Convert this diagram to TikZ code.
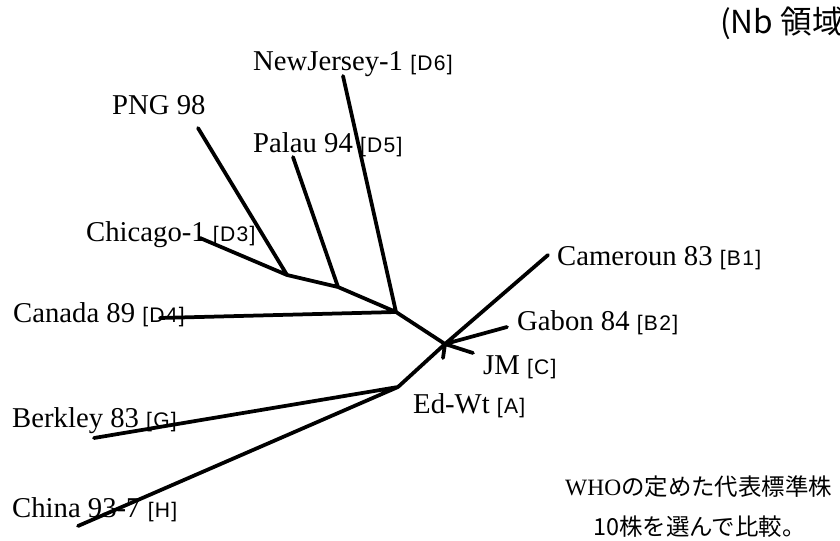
\documentclass[tikz,border=0pt]{standalone}
\usepackage{fontspec}
\setmainfont{Liberation Serif}
\newfontfamily\jpfont{Noto Sans CJK JP}
\newfontfamily\tagfont[LetterSpace=6]{Liberation Sans}
\newcommand{\strain}{\fontsize{24.5}{28}\selectfont}
\newcommand{\tagf}{\tagfont\fontsize{18}{22}\selectfont}
\tikzset{
	branch/.style={line width=3.2pt, line cap=round, line join=round},
	leaflabel/.style={anchor=base west, inner sep=0pt, font=\strain}
}
\begin{document}
\begin{tikzpicture}[x=0.03cm,y=-0.03cm]
		\useasboundingbox (0,0) rectangle (840,541);
		% tips and inner junctions
		\coordinate (njtip) at (343,76);
		\coordinate (pngtip) at (198,128);
		\coordinate (palautip) at (293,157);
		\coordinate (chitip) at (200,238);
		\coordinate (cantip) at (160,318);
		\coordinate (camtip) at (548,255);
		\coordinate (gabtip) at (507,327);
		\coordinate (jmtip) at (473,353);
		\coordinate (bertip) at (94,438);
		\coordinate (chntip) at (78,526);
		\coordinate (jd3) at (287,275);
		\coordinate (jd5) at (338,287);
		\coordinate (jd) at (396,312);
		\coordinate (jc) at (445,344);
		\coordinate (jtick) at (443,358);
		\coordinate (jg) at (398,387);
		% branches
		\draw[branch] (pngtip)--(jd3)--(jd5)--(jd)--(jc)
			   (chitip)--(jd3)
			   (palautip)--(jd5)
			   (njtip)--(jd)
			   (cantip)--(jd)
			   (camtip)--(jc)
			   (gabtip)--(jc)
			   (jmtip)--(jc)--(jtick)
			   (jc)--(jg)
			   (bertip)--(jg)--(chntip);
		% strain names
		\node[leaflabel] (nj) at (253,71) {NewJersey-1 {\tagf[D6]}};
		\node[leaflabel] (png) at (112,115) {PNG 98};
		\node[leaflabel] (palau) at (253,153) {Palau 94 {\tagf[D5]}};
		\node[leaflabel] (chi) at (86,242) {Chicago-1 {\tagf[D3]}};
		\node[leaflabel] (can) at (13,322) {Canada 89 {\tagf[D4]}};
		\node[leaflabel] (cam) at (557,265) {Cameroun 83 {\tagf[B1]}};
		\node[leaflabel] (gab) at (517,330) {Gabon 84 {\tagf[B2]}};
		\node[leaflabel] (jm) at (483,374) {JM {\tagf[C]}};
		\node[leaflabel] (edwt) at (413,413) {Ed-Wt {\tagf[A]}};
		\node[leaflabel] (ber) at (12,427) {Berkley 83 {\tagf[G]}};
		\node[leaflabel] (chn) at (12,517) {China 93-7 {\tagf[H]}};
		% notes
		\node[anchor=base west, inner sep=0pt, font=\jpfont\fontsize{27}{32}\selectfont] (region) at (720,34) {(Nb 領域)};
		\node[anchor=base west, inner sep=0pt, font=\fontsize{20}{24}\selectfont] (who) at (565,495) {WHO{\jpfont の定めた代表標準株}};
		\node[anchor=base west, inner sep=0pt, font=\jpfont\fontsize{20}{24}\selectfont] (ten) at (593,535) {10株を選んで比較。};
	\end{tikzpicture}
\end{document}
